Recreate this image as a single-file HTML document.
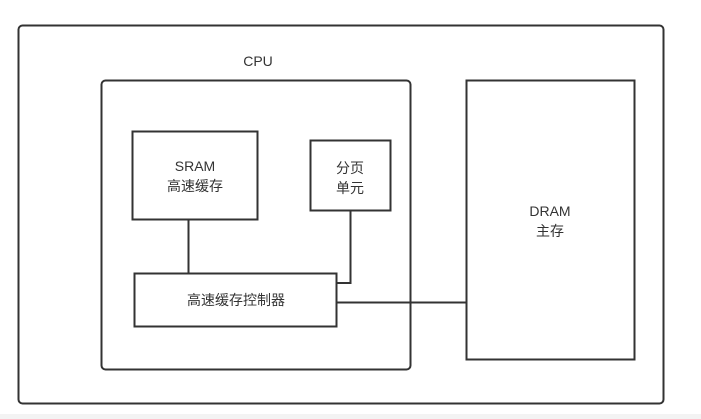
<!DOCTYPE html>
<html><head><meta charset="utf-8"><style>
html,body{margin:0;padding:0;background:#fff;}
body{width:701px;height:419px;overflow:hidden;position:relative;}
</style></head><body>
<svg width="701" height="419" viewBox="0 0 701 419" xmlns="http://www.w3.org/2000/svg" style="position:absolute;left:0;top:0">
<rect x="0" y="414" width="701" height="5" fill="#f3f3f3"/>
<g fill="none" stroke="#333" stroke-width="2">
<rect x="18.5" y="25.5" width="645" height="378" rx="4"/>
<rect x="101.5" y="80.5" width="309" height="289" rx="4"/>
<rect x="132.5" y="131.5" width="125" height="88"/>
<rect x="310.5" y="140.5" width="80" height="70"/>
<rect x="134.5" y="273.5" width="202" height="53"/>
<rect x="466.5" y="80.5" width="168" height="279"/>
<polyline points="188.5,220 188.5,273"/>
<polyline points="350.5,211 350.5,283 337,283"/>
<polyline points="337,302.5 466,302.5"/>
</g>
<g font-family="Liberation Sans, Noto Sans CJK SC, sans-serif" font-size="14" fill="#333" text-anchor="middle">
<text x="258" y="66">CPU</text>
<text x="195" y="171">SRAM</text>
<text x="195" y="191">高速缓存</text>
<text x="350" y="173">分页</text>
<text x="350" y="193">单元</text>
<text x="550" y="216">DRAM</text>
<text x="550" y="236">主存</text>
<text x="236" y="305">高速缓存控制器</text>
</g>
</svg>
</body></html>
